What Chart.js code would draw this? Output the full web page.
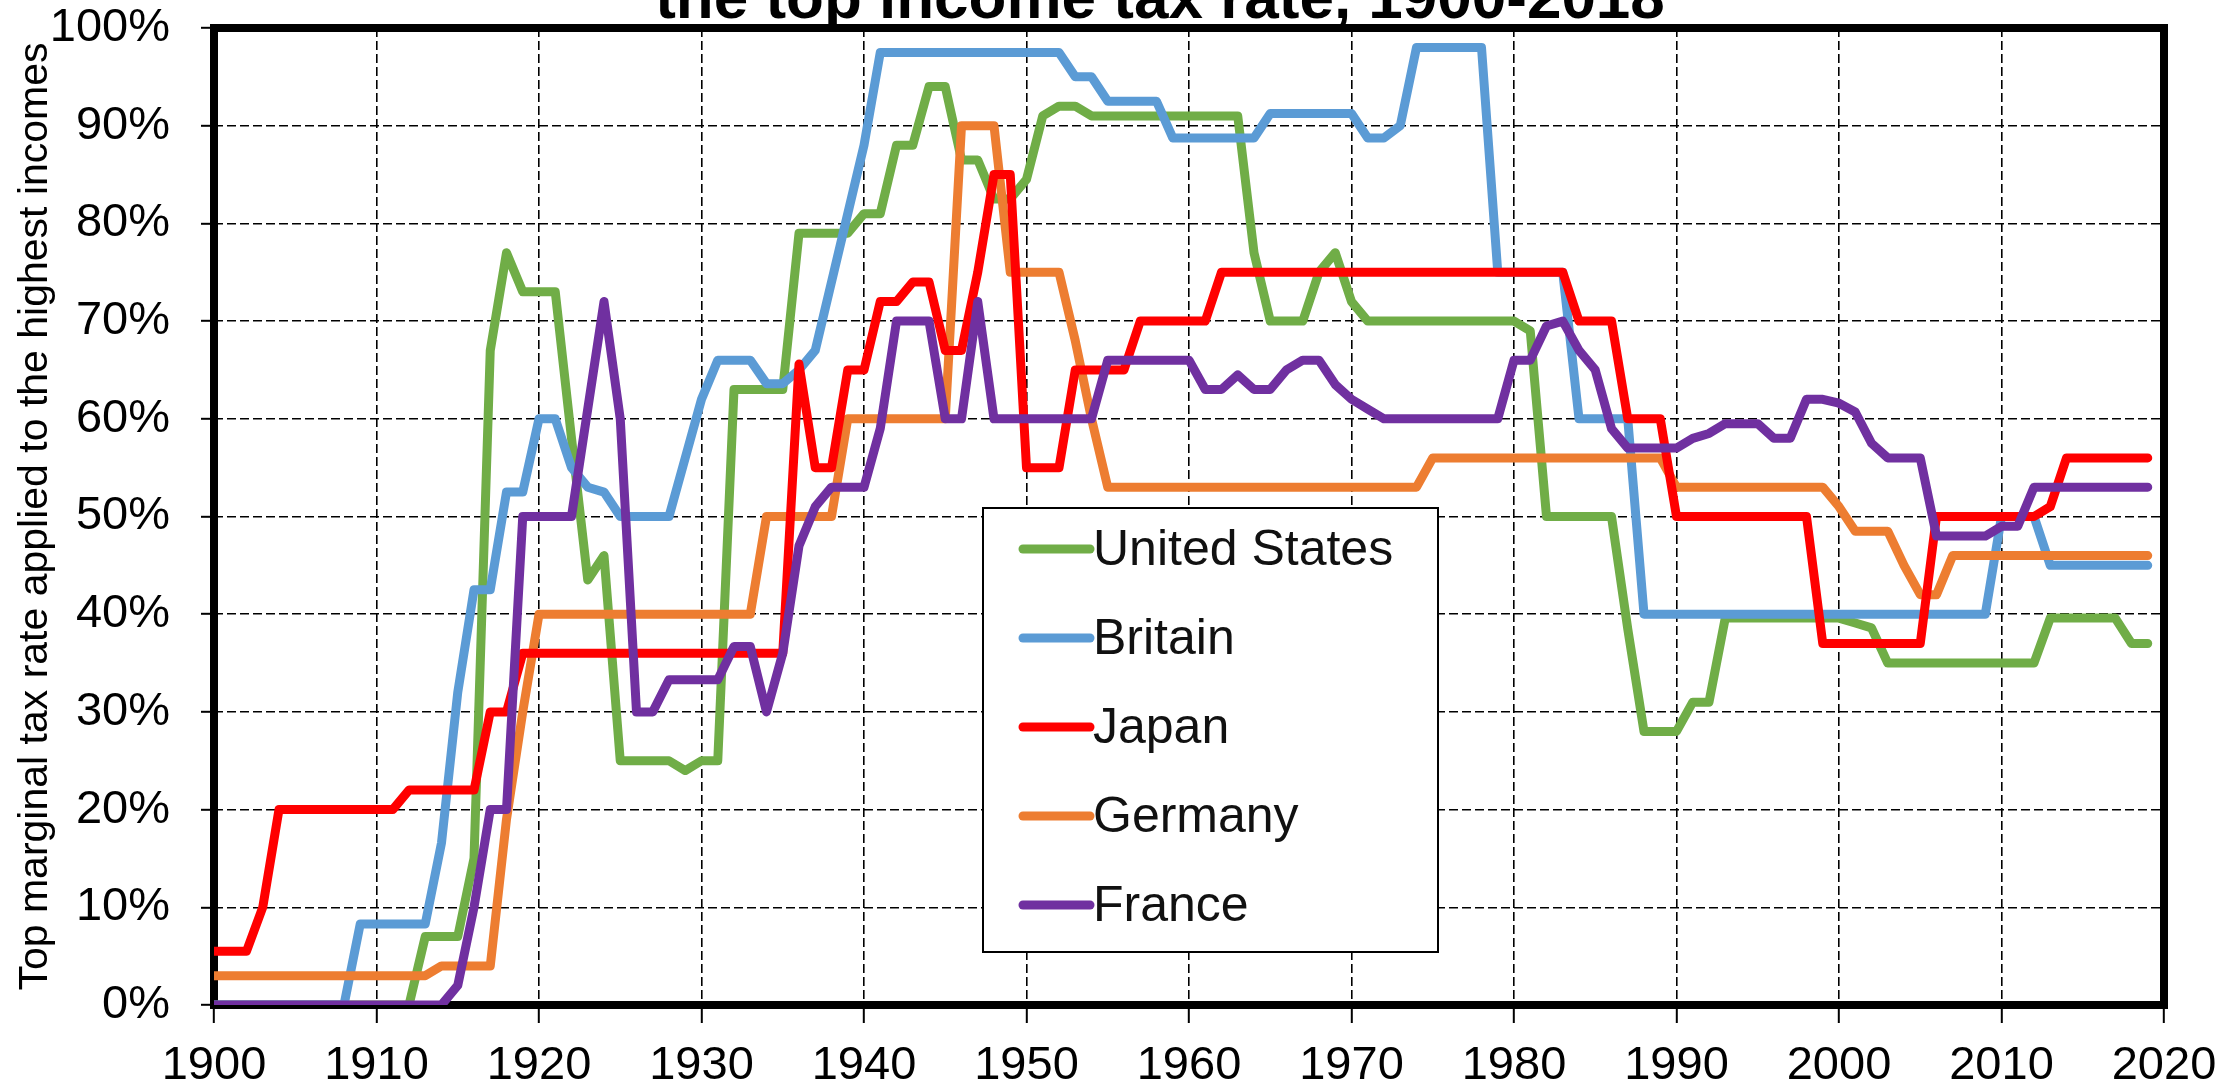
<!DOCTYPE html>
<html lang="en">
<head>
<meta charset="UTF-8">
<title>Top income tax rates, 1900-2018</title>
<script src="https://cdn.jsdelivr.net/npm/chart.js"></script>
<style>
  html, body { margin: 0; padding: 0; background: #fff; overflow: hidden; }
  #wrap { position: relative; width: 2226px; height: 1085px; }
</style>
</head>
<body>
<div id="wrap"><canvas id="taxChart"></canvas></div>

<script>
// ---- data (one value per year, 1900 .. 2019) ----
const firstYear = 1900;
const yearTicks = [1900, 1910, 1920, 1930, 1940, 1950, 1960, 1970, 1980, 1990, 2000, 2010, 2020];
const rateTicks = [0, 10, 20, 30, 40, 50, 60, 70, 80, 90, 100];

const countries = ['United States', 'Britain', 'Japan', 'Germany', 'France'];
const colors = ['#70ad47', '#5b9bd5', '#ff0000', '#ed7d31', '#7030a0'];

const unitedStates = [
  0, 0, 0, 0, 0, 0, 0, 0, 0, 0,
  0, 0, 0, 7, 7, 7, 15, 67, 77, 73,
  73, 73, 58, 43.5, 46, 25, 25, 25, 25, 24,
  25, 25, 63, 63, 63, 63, 79, 79, 79, 79,
  81, 81, 88, 88, 94, 94, 86.5, 86.5, 82.5, 82.5,
  84.5, 91, 92, 92, 91, 91, 91, 91, 91, 91,
  91, 91, 91, 91, 77, 70, 70, 70, 75, 77,
  72, 70, 70, 70, 70, 70, 70, 70, 70, 70,
  70, 69, 50, 50, 50, 50, 50, 38.5, 28, 28,
  28, 31, 31, 39.6, 39.6, 39.6, 39.6, 39.6, 39.6, 39.6,
  39.6, 39.1, 38.6, 35, 35, 35, 35, 35, 35, 35,
  35, 35, 35, 39.6, 39.6, 39.6, 39.6, 39.6, 37, 37
];

const britain = [
  0, 0, 0, 0, 0, 0, 0, 0, 0, 8.3,
  8.3, 8.3, 8.3, 8.3, 16.6, 32, 42.5, 42.5, 52.5, 52.5,
  60, 60, 55, 53, 52.5, 50, 50, 50, 50, 56,
  62, 66, 66, 66, 63.6, 63.6, 65, 67, 74, 81,
  88, 97.5, 97.5, 97.5, 97.5, 97.5, 97.5, 97.5, 97.5, 97.5,
  97.5, 97.5, 97.5, 95, 95, 92.5, 92.5, 92.5, 92.5, 88.75,
  88.75, 88.75, 88.75, 88.75, 88.75, 91.25, 91.25, 91.25, 91.25, 91.25,
  91.25, 88.75, 88.75, 90, 98, 98, 98, 98, 98, 75,
  75, 75, 75, 75, 60, 60, 60, 60, 40, 40,
  40, 40, 40, 40, 40, 40, 40, 40, 40, 40,
  40, 40, 40, 40, 40, 40, 40, 40, 40, 40,
  50, 50, 50, 45, 45, 45, 45, 45, 45, 45
];

const japan = [
  5.5, 5.5, 5.5, 10, 20, 20, 20, 20, 20, 20,
  20, 20, 22, 22, 22, 22, 22, 30, 30, 36,
  36, 36, 36, 36, 36, 36, 36, 36, 36, 36,
  36, 36, 36, 36, 36, 36, 65.6, 55, 55, 65,
  65, 72, 72, 74, 74, 67, 67, 75, 85, 85,
  55, 55, 55, 65, 65, 65, 65, 70, 70, 70,
  70, 70, 75, 75, 75, 75, 75, 75, 75, 75,
  75, 75, 75, 75, 75, 75, 75, 75, 75, 75,
  75, 75, 75, 75, 70, 70, 70, 60, 60, 60,
  50, 50, 50, 50, 50, 50, 50, 50, 50, 37,
  37, 37, 37, 37, 37, 37, 50, 50, 50, 50,
  50, 50, 50, 51, 56, 56, 56, 56, 56, 56
];

const germany = [
  3, 3, 3, 3, 3, 3, 3, 3, 3, 3,
  3, 3, 3, 3, 4, 4, 4, 4, 19, 30,
  40, 40, 40, 40, 40, 40, 40, 40, 40, 40,
  40, 40, 40, 40, 50, 50, 50, 50, 50, 60,
  60, 60, 60, 60, 60, 60, 90, 90, 90, 75,
  75, 75, 75, 68, 60, 53, 53, 53, 53, 53,
  53, 53, 53, 53, 53, 53, 53, 53, 53, 53,
  53, 53, 53, 53, 53, 56, 56, 56, 56, 56,
  56, 56, 56, 56, 56, 56, 56, 56, 56, 56,
  53, 53, 53, 53, 53, 53, 53, 53, 53, 53,
  51, 48.5, 48.5, 48.5, 45, 42, 42, 46, 46, 46,
  46, 46, 46, 46, 46, 46, 46, 46, 46, 46
];

const france = [
  0, 0, 0, 0, 0, 0, 0, 0, 0, 0,
  0, 0, 0, 0, 0, 2, 10, 20, 20, 50,
  50, 50, 50, 61, 72, 60, 30, 30, 33.3, 33.3,
  33.3, 33.3, 36.7, 36.7, 30, 36, 47, 51, 53, 53,
  53, 59, 70, 70, 70, 60, 60, 72, 60, 60,
  60, 60, 60, 60, 60, 66, 66, 66, 66, 66,
  66, 63, 63, 64.5, 63, 63, 65, 66, 66, 63.5,
  62, 61, 60, 60, 60, 60, 60, 60, 60, 60,
  66, 66, 69.5, 70, 67, 65, 59, 57, 57, 57,
  57, 58, 58.5, 59.5, 59.5, 59.5, 58, 58, 62, 62,
  61.6, 60.7, 57.5, 56, 56, 56, 48, 48, 48, 48,
  49, 49, 53, 53, 53, 53, 53, 53, 53, 53
];

const series = [unitedStates, britain, japan, germany, france];
// France on top, then Japan, Germany, Britain, US underneath
const drawOrder = [4, 3, 1, 2, 0];

const FONT = '"Liberation Sans", Arial, sans-serif';
const chartTitle = 'the top income tax rate, 1900-2018';
const yTitle = 'Top marginal tax rate applied to the highest incomes';

// thick black box round the plot area
const framePlugin = {
  id: 'frame',
  beforeDatasetsDraw(chart) {
    const { ctx, chartArea: a } = chart;
    ctx.save();
    ctx.lineWidth = 8;
    ctx.strokeStyle = '#000';
    ctx.strokeRect(a.left, a.top, a.right - a.left, a.bottom - a.top);
    ctx.restore();
  }
};

// title line, cut off at the top edge like the original
const titlePlugin = {
  id: 'cutTitle',
  afterDraw(chart) {
    const ctx = chart.ctx;
    ctx.save();
    ctx.font = 'bold 62px ' + FONT;
    ctx.fillStyle = '#000';
    ctx.textAlign = 'center';
    ctx.textBaseline = 'alphabetic';
    ctx.fillText(chartTitle, 1160, 18);
    ctx.restore();
  }
};

// boxed legend inside the plot
const legendPlugin = {
  id: 'boxLegend',
  afterDatasetsDraw(chart) {
    const ctx = chart.ctx;
    ctx.save();
    ctx.fillStyle = '#fff';
    ctx.fillRect(983, 508, 455, 444);
    ctx.lineWidth = 2;
    ctx.strokeStyle = '#000';
    ctx.strokeRect(983, 508, 455, 444);
    ctx.font = '50px ' + FONT;
    ctx.textBaseline = 'middle';
    ctx.textAlign = 'left';
    chart.data.datasets.forEach((ds, i) => {
      const y = 549 + i * 89;
      ctx.strokeStyle = ds.borderColor;
      ctx.lineWidth = 9;
      ctx.lineCap = 'round';
      ctx.beginPath();
      ctx.moveTo(1023, y);
      ctx.lineTo(1090, y);
      ctx.stroke();
      ctx.fillStyle = '#111';
      ctx.fillText(ds.label, 1093, y + 2);
    });
    ctx.restore();
  }
};

new Chart(document.getElementById('taxChart'), {
  type: 'line',
  data: {
    datasets: countries.map((name, i) => ({
      label: name,
      data: series[i].map((v, k) => ({ x: firstYear + k, y: v })),
      borderColor: colors[i],
      backgroundColor: colors[i],
      borderWidth: 9,
      pointRadius: 0,
      tension: 0,
      borderJoinStyle: 'round',
      borderCapStyle: 'round',
      fill: false,
      order: drawOrder[i]
    }))
  },
  options: {
    responsive: true,
    maintainAspectRatio: false,
    animation: false,
    layout: { autoPadding: false, padding: { top: 28, right: 62, bottom: 0, left: 0 } },
    plugins: {
      legend: { display: false },
      title: { display: false },
      tooltip: { enabled: false }
    },
    scales: {
      x: {
        type: 'linear',
        min: 1900,
        max: 2020,
        afterBuildTicks: s => { s.ticks = yearTicks.map(v => ({ value: v })); },
        afterFit: s => { s.height = 80; s.paddingLeft = 0; s.paddingRight = 0; },
        ticks: {
          font: { family: FONT, size: 47 },
          color: '#000',
          padding: 15,
          maxRotation: 0,
          autoSkip: false,
          callback: v => String(v)
        },
        grid: { color: '#000', lineWidth: 1.6, tickLength: 18, tickColor: '#000', tickWidth: 2 },
        border: { display: false, dash: [9, 4] }
      },
      y: {
        min: 0,
        max: 100,
        afterBuildTicks: s => { s.ticks = rateTicks.map(v => ({ value: v })); },
        afterFit: s => { s.width = 214; s.paddingTop = 0; s.paddingBottom = 0; },
        ticks: {
          font: { family: FONT, size: 47 },
          color: '#000',
          padding: 31,
          callback: v => v + '%'
        },
        grid: { color: '#000', lineWidth: 1.6, tickLength: 13, tickColor: '#000', tickWidth: 2 },
        border: { display: false, dash: [9, 4] },
        title: {
          display: true,
          text: yTitle,
          color: '#000',
          font: { family: FONT, size: 41 },
          padding: { top: 11, bottom: 0 }
        }
      }
    }
  },
  plugins: [framePlugin, legendPlugin, titlePlugin]
});
</script>
</body>
</html>
